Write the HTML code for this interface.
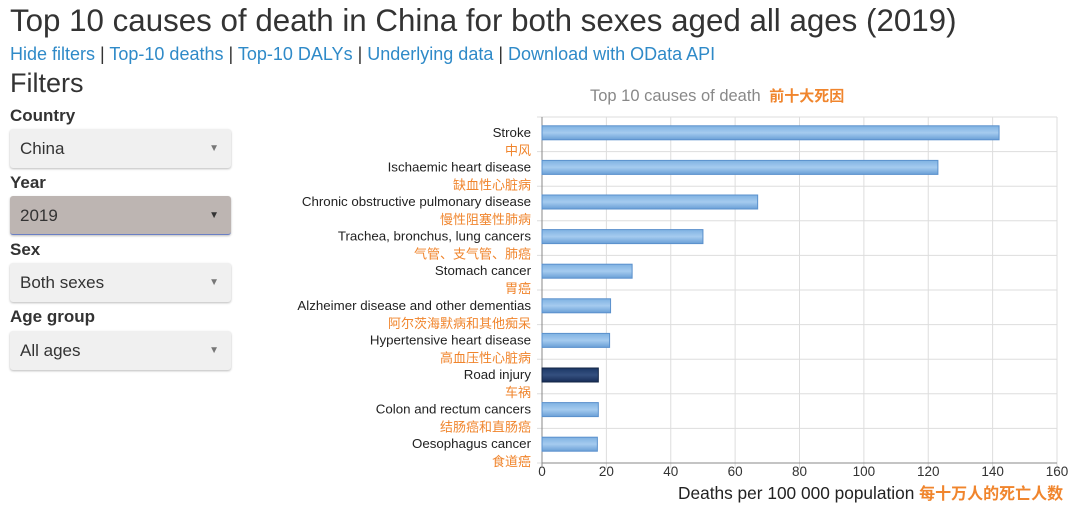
<!DOCTYPE html>
<html><head><meta charset="utf-8"><style>
body{margin:0;width:1080px;height:509px;background:#fff;font-family:"Liberation Sans","Noto Sans CJK SC",sans-serif;overflow:hidden;position:relative;color:#333}
h1{position:absolute;left:10px;top:3px;margin:0;font-weight:normal;font-size:31.3px;color:#333;white-space:nowrap}
.links{position:absolute;left:10px;top:44px;font-size:18px;color:#333;white-space:nowrap}
.links a{color:#2f8ac8;text-decoration:none}
.ft{position:absolute;left:10px;top:68px;font-size:27px}
.lab{position:absolute;left:10px;font-size:17px;font-weight:bold}
.sel{position:absolute;left:10px;width:221px;height:39px;background:#f0f0f0;border-radius:3px;box-shadow:0 1px 2px #bbb;font-size:17px;line-height:39px;box-sizing:border-box;padding-left:10px}
.sel span{position:absolute;right:12px;top:0;font-size:10px;color:#777}
</style></head><body>
<h1>Top 10 causes of death in China for both sexes aged all ages (2019)</h1>
<div class="links"><a>Hide filters</a> | <a>Top-10 deaths</a> | <a>Top-10 DALYs</a> | <a>Underlying data</a> | <a>Download with OData API</a></div>
<div class="ft">Filters</div>
<div class="lab" style="top:106px">Country</div>
<div class="sel" style="top:129px">China<span>▼</span></div>
<div class="lab" style="top:173px">Year</div>
<div class="sel" style="top:196px;background:#bdb5b2;border-bottom:1px solid #6a7fc4">2019<span style="color:#333">▼</span></div>
<div class="lab" style="top:240px">Sex</div>
<div class="sel" style="top:263px">Both sexes<span>▼</span></div>
<div class="lab" style="top:307px">Age group</div>
<div class="sel" style="top:331px">All ages<span>▼</span></div>
<svg id="chart" width="1080" height="509" style="position:absolute;left:0;top:0">
<defs><linearGradient id="gb" x1="0" y1="0" x2="0" y2="1"><stop offset="0" stop-color="#7fb2e2"/><stop offset="0.5" stop-color="#a5cbef"/><stop offset="1" stop-color="#6a9fd6"/></linearGradient>
<linearGradient id="gd" x1="0" y1="0" x2="0" y2="1"><stop offset="0" stop-color="#1c3766"/><stop offset="0.5" stop-color="#34507f"/><stop offset="1" stop-color="#172d57"/></linearGradient></defs>
<text x="590" y="101" font-size="16.5" fill="#888">Top 10 causes of death <tspan fill="#f0852d" font-weight="bold" font-size="15" dx="4">前十大死因</tspan></text>
<text x="678" y="499" font-size="17.3" fill="#222">Deaths per 100 000 population <tspan fill="#f0852d" font-weight="bold" font-size="16">每十万人的死亡人数</tspan></text>
</svg>
<script>
const categories=["Stroke","Ischaemic heart disease","Chronic obstructive pulmonary disease","Trachea, bronchus, lung cancers","Stomach cancer","Alzheimer disease and other dementias","Hypertensive heart disease","Road injury","Colon and rectum cancers","Oesophagus cancer"];
const categoriesZh=["中风","缺血性心脏病","慢性阻塞性肺病","气管、支气管、肺癌","胃癌","阿尔茨海默病和其他痴呆","高血压性心脏病","车祸","结肠癌和直肠癌","食道癌"];
const values=[142,123,67,50,28,21.3,21,17.5,17.5,17.2];
const ticks=[0,20,40,60,80,100,120,140,160];
const svg=document.getElementById('chart');const NS='http://www.w3.org/2000/svg';
const X0=542,X1=1057,Y0=117,Y1=463;const rh=(Y1-Y0)/categories.length;
const xs=v=>X0+(v-0)/(160-0)*(X1-X0);
function mk(t,a,txt){const e=document.createElementNS(NS,t);for(const k in a)e.setAttribute(k,a[k]);if(txt!=null)e.textContent=txt;svg.appendChild(e);return e;}
ticks.forEach(t=>{
const g=mk('line',{x1:xs(t),x2:xs(t),y1:Y0,y2:Y1+5,stroke:'#ddd'});


const l=mk('text',{x:xs(t),y:Y1+13,'text-anchor':'middle','font-size':13.5,fill:'#333'},t);


});
for(let i=0;i<=categories.length;i++){const y=Y0+i*rh;
const g=mk('line',{x1:X0-5,x2:X1,y1:y,y2:y,stroke:'#ddd'});

}
mk('line',{x1:X0,x2:X0,y1:Y0,y2:Y1+5,stroke:'#888'});
mk('line',{x1:X0,x2:X1,y1:Y1,y2:Y1,stroke:'#888'});
categories.forEach((c,i)=>{const yc=Y0+i*rh+rh/2-1.5;
const b=mk('rect',{x:X0,y:yc-7,width:xs(values[i])-X0,height:14,fill:i==7?'url(#gd)':'url(#gb)',stroke:i==7?'#132544':'#5a90cc','stroke-width':1});


const t=mk('text',{x:531,y:yc+4,'text-anchor':'end','font-size':13.3,fill:'#222'},c);


const z=mk('text',{x:531,y:yc+22,'text-anchor':'end','font-size':13,fill:'#f0852d'},categoriesZh[i]);


});
</script>
</body></html>
